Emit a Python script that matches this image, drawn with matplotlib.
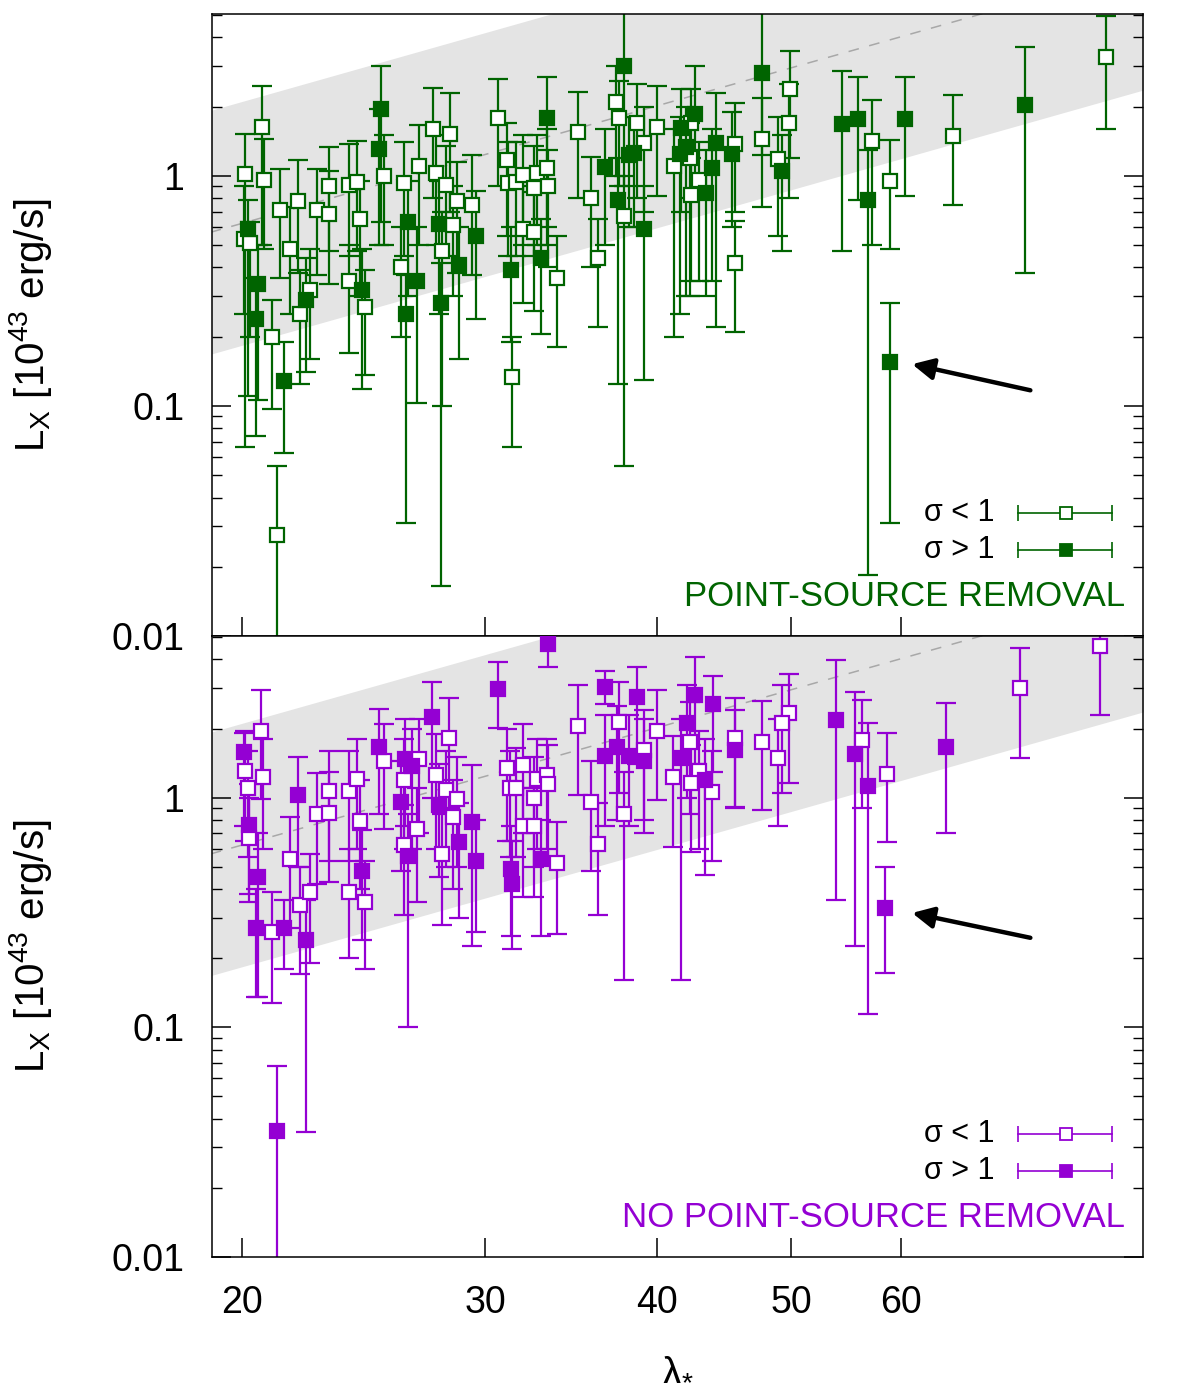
import matplotlib
matplotlib.use("Agg")
import matplotlib.pyplot as plt
import numpy as np
from matplotlib.ticker import FixedLocator, NullLocator, LogLocator, NullFormatter

plt.rcParams.update({
    "font.family": ["Liberation Sans", "DejaVu Sans"],
    "mathtext.default": "regular",
    "axes.linewidth": 1.1,
})

GREEN = "#006400"
PURPLE = "#9400d3"

# ---- top panel: point-source removal ----
lam_top = [20.1, 20.2, 20.07, 20.27, 20.67, 20.74, 20.54, 20.47, 21.02, 21.46, 21.19, 21.32,
           21.66, 21.98, 22.05, 22.27, 22.42, 22.68, 23.11, 23.11, 23.93, 24.25, 24.37, 23.93,
           24.45, 24.57, 25.23, 25.15, 25.36, 26.2, 26.39, 26.07, 26.31, 26.88, 26.79, 27.53,
           28.3, 27.65, 28.12, 27.79, 28.65, 28.42, 27.94, 28.71, 27.88, 29.37, 29.57, 30.66,
           31.13, 31.2, 31.6, 31.96, 32.7, 32.55, 33.26, 33.33, 33.26, 31.96, 32.55, 32.93,
           31.33, 31.4, 33.82, 35.03, 35.81, 36.22, 36.65, 37.8, 37.31, 37.5, 38.14, 38.46,
           37.45, 37.8, 38.64, 39.09, 39.09, 40.0, 41.6, 42.6, 42.3, 41.92, 41.5, 41.15,
           42.2, 44.1, 42.9, 43.8, 43.4, 42.3, 45.5, 45.3, 45.55, 47.6, 47.6, 49.9,
           49.8, 48.9, 49.2, 54.4, 55.9, 56.8, 57.2, 59.0, 59.0, 60.4, 65.5, 73.9, 84.5]
lx_top = [1.02, 0.59, 0.53, 0.51, 1.63, 0.96, 0.34, 0.24, 0.2, 0.128, 0.0275, 0.71,
          0.48, 0.78, 0.25, 0.29, 0.32, 0.71, 0.9, 0.68, 0.91, 0.94, 0.65, 0.35,
          0.32, 0.27, 1.95, 1.31, 1.0, 0.93, 0.63, 0.4, 0.25, 1.1, 0.35, 1.6,
          1.52, 1.03, 0.91, 0.62, 0.78, 0.61, 0.47, 0.41, 0.28, 0.75, 0.55, 1.79,
          1.17, 0.93, 0.94, 1.01, 1.03, 0.89, 1.08, 0.9, 1.79, 0.59, 0.57, 0.44,
          0.39, 0.134, 0.36, 1.55, 0.8, 0.44, 1.09, 3.01, 2.1, 1.79, 1.23, 1.26,
          0.79, 0.67, 1.7, 1.39, 0.59, 1.63, 1.62, 1.86, 1.7, 1.34, 1.25, 1.1,
          1.2, 1.39, 0.96, 1.08, 0.84, 0.83, 1.38, 1.25, 0.42, 2.8, 1.45, 2.39,
          1.7, 1.19, 1.05, 1.68, 1.77, 0.79, 1.42, 0.95, 0.155, 1.77, 1.49, 2.04, 3.29]
lo_top = [0.066, 0.11, 0.25, 0.2, 0.5, 0.48, 0.106, 0.074, 0.097, 0.0625, 0.005, 0.36,
          0.25, 0.38, 0.125, 0.14, 0.16, 0.37, 0.47, 0.34, 0.45, 0.47, 0.3, 0.17,
          0.119, 0.136, 0.63, 0.5, 0.5, 0.45, 0.3, 0.2, 0.031, 0.5, 0.103, 0.8,
          0.7, 0.5, 0.45, 0.25, 0.38, 0.3, 0.1, 0.16, 0.0165, 0.37, 0.24, 0.9,
          0.55, 0.45, 0.45, 0.5, 0.5, 0.45, 0.5, 0.4, 0.6, 0.28, 0.26, 0.205,
          0.19, 0.066, 0.18, 0.8, 0.4, 0.22, 0.5, 0.9, 1.0, 0.9, 0.6, 0.6,
          0.125, 0.055, 0.8, 0.7, 0.13, 0.82, 0.7, 0.8, 0.8, 0.3, 0.25, 0.2,
          0.3, 0.22, 0.35, 0.35, 0.3, 0.35, 0.7, 0.6, 0.21, 1.23, 0.73, 1.2,
          0.8, 0.55, 0.47, 0.47, 0.79, 0.0184, 0.5, 0.48, 0.031, 0.82, 0.75, 0.38, 1.6]
hi_top = [1.52, 0.79, 0.9, 0.63, 2.46, 1.45, 0.5, 0.36, 0.29, 0.19, 0.055, 1.07,
          0.73, 1.17, 0.39, 0.44, 0.48, 1.07, 1.34, 1.05, 1.38, 1.42, 0.95, 0.5,
          0.48, 0.39, 3.0, 1.95, 1.5, 1.4, 0.95, 0.6, 0.37, 1.66, 0.6, 2.41,
          2.3, 1.5, 1.35, 0.95, 1.15, 0.9, 0.7, 0.6, 0.42, 1.23, 0.86, 2.64,
          1.7, 1.4, 1.4, 1.5, 1.5, 1.35, 1.6, 1.3, 2.69, 0.9, 0.85, 0.65,
          0.6, 0.2, 0.55, 2.32, 1.21, 0.65, 1.6, 6.0, 3.0, 2.6, 1.8, 1.8,
          1.2, 1.0, 2.5, 2.0, 0.9, 2.46, 2.4, 3.0, 2.4, 2.0, 1.8, 1.6,
          1.7, 2.3, 1.4, 1.6, 1.3, 1.2, 2.08, 1.9, 0.64, 6.0, 2.18, 3.5,
          2.5, 1.8, 1.5, 2.86, 2.69, 1.3, 2.14, 1.43, 0.28, 2.69, 2.25, 3.64, 4.96]
sig_top = [0, 1, 0, 0, 0, 0, 1, 1, 0, 1, 0, 0,
           0, 0, 0, 1, 0, 0, 0, 0, 0, 0, 0, 0,
           1, 0, 1, 1, 0, 0, 1, 0, 1, 0, 1, 0,
           0, 0, 0, 1, 0, 0, 0, 1, 1, 0, 1, 0,
           0, 0, 0, 0, 0, 0, 0, 0, 1, 0, 0, 1,
           1, 0, 0, 0, 0, 0, 1, 1, 0, 0, 1, 1,
           1, 0, 0, 0, 1, 0, 1, 1, 0, 1, 1, 0,
           0, 1, 0, 1, 1, 0, 0, 1, 0, 1, 0, 0,
           0, 0, 1, 1, 1, 1, 0, 0, 1, 1, 0, 1, 0]

# ---- bottom panel: no point-source removal ----
lam_bot = [20.07, 20.64, 20.1, 20.2, 20.71, 20.23, 20.23, 20.54, 20.47, 21.02, 21.46, 21.19,
           21.66, 21.98, 22.05, 22.27, 22.42, 22.68, 23.11, 23.11, 23.93, 24.25, 24.37, 24.45,
           23.93, 24.57, 25.15, 25.36, 26.26, 26.2, 26.07, 26.2, 26.39, 26.57, 26.88, 26.79,
           27.47, 28.24, 27.65, 28.12, 27.79, 28.65, 28.42, 28.71, 27.94, 29.37, 29.57, 30.66,
           33.3, 31.13, 31.96, 31.27, 31.6, 32.7, 33.26, 33.33, 32.55, 31.96, 32.55, 31.33,
           31.4, 32.93, 33.82, 35.03, 35.81, 36.22, 36.65, 36.65, 37.5, 37.4, 38.64, 38.14,
           37.8, 39.09, 39.09, 40.0, 42.6, 43.85, 42.0, 42.2, 41.6, 41.07, 42.9, 42.3,
           43.3, 43.8, 45.5, 45.55, 47.6, 49.8, 49.2, 48.9, 53.9, 55.6, 56.3, 56.8,
           58.7, 58.5, 64.7, 73.2, 83.7]
lx_bot = [1.58, 1.96, 1.31, 1.1, 1.23, 0.76, 0.67, 0.45, 0.27, 0.26, 0.27, 0.0353,
          0.54, 1.03, 0.34, 0.24, 0.39, 0.85, 1.07, 0.86, 1.07, 1.21, 0.79, 0.48,
          0.39, 0.35, 1.67, 1.45, 1.48, 1.19, 0.96, 0.62, 0.56, 1.38, 1.48, 0.73,
          2.25, 1.82, 1.26, 1.08, 0.93, 0.99, 0.82, 0.64, 0.57, 0.78, 0.53, 2.98,
          4.67, 1.35, 1.39, 1.1, 1.1, 1.21, 1.25, 1.15, 1.0, 0.75, 0.75, 0.49,
          0.42, 0.54, 0.52, 2.06, 0.96, 0.63, 3.04, 1.52, 2.14, 1.67, 2.75, 1.52,
          0.85, 1.62, 1.45, 1.96, 2.8, 2.56, 2.12, 1.75, 1.49, 1.23, 1.31, 1.16,
          1.19, 1.06, 1.82, 1.62, 1.75, 2.34, 2.12, 1.49, 2.18, 1.55, 1.79, 1.13,
          1.27, 0.33, 1.67, 3.01, 4.58]
lo_bot = [0.75, 0.99, 0.65, 0.55, 0.6, 0.38, 0.35, 0.136, 0.136, 0.128, 0.18, 0.003,
          0.27, 0.5, 0.17, 0.035, 0.19, 0.42, 0.53, 0.43, 0.53, 0.6, 0.4, 0.24,
          0.2, 0.18, 0.85, 0.73, 0.75, 0.6, 0.48, 0.31, 0.1, 0.6, 0.7, 0.35,
          1.0, 0.9, 0.6, 0.5, 0.45, 0.5, 0.4, 0.3, 0.28, 0.227, 0.26, 2.01,
          3.71, 0.65, 0.7, 0.55, 0.55, 0.6, 0.6, 0.55, 0.5, 0.37, 0.37, 0.25,
          0.22, 0.25, 0.256, 1.03, 0.48, 0.31, 2.56, 0.75, 1.05, 0.8, 1.4, 0.75,
          0.16, 0.8, 0.7, 0.98, 1.4, 1.3, 1.0, 0.85, 0.16, 0.61, 0.6, 0.58,
          0.46, 0.53, 0.9, 0.91, 0.88, 1.16, 1.05, 0.75, 0.36, 0.227, 0.9, 0.114,
          0.64, 0.172, 0.7, 1.49, 2.3]
hi_bot = [1.92, 2.95, 1.95, 1.6, 1.8, 1.15, 1.0, 0.7, 0.4, 0.39, 0.36, 0.068,
          0.82, 1.51, 0.5, 0.36, 0.57, 1.28, 1.6, 1.3, 1.6, 1.8, 1.2, 0.72,
          0.6, 0.53, 2.44, 2.1, 2.2, 1.8, 1.45, 0.93, 0.85, 2.0, 2.2, 1.1,
          3.19, 2.72, 1.9, 1.6, 1.4, 1.5, 1.2, 0.95, 0.85, 1.39, 0.8, 3.9,
          6.0, 2.0, 2.1, 1.6, 1.65, 1.8, 1.8, 1.7, 1.5, 1.1, 1.1, 0.75,
          0.65, 0.8, 0.78, 3.1, 1.45, 0.95, 3.57, 2.3, 3.2, 2.5, 3.71, 2.3,
          1.3, 2.4, 2.2, 2.95, 4.1, 3.39, 3.1, 2.6, 2.2, 1.85, 1.95, 1.7,
          1.8, 1.6, 2.72, 2.4, 2.64, 3.46, 3.1, 2.2, 3.98, 2.89, 2.67, 2.12,
          1.92, 0.5, 2.59, 4.49, 6.0]
sig_bot = [1, 0, 0, 0, 0, 1, 0, 1, 1, 0, 1, 1,
           0, 1, 0, 1, 0, 0, 0, 0, 0, 0, 0, 1,
           0, 0, 1, 0, 1, 0, 1, 0, 1, 1, 0, 0,
           1, 0, 0, 0, 1, 0, 0, 1, 0, 1, 1, 1,
           1, 0, 0, 0, 0, 0, 0, 0, 0, 0, 0, 1,
           1, 1, 0, 0, 0, 0, 1, 1, 0, 1, 1, 1,
           0, 0, 1, 0, 1, 1, 1, 0, 1, 0, 0, 0,
           1, 0, 0, 1, 0, 0, 0, 0, 1, 1, 0, 1,
           0, 1, 1, 0, 0]

# band: L = norm * (lambda/40)^slope, +/- half-width in dex
band_norm = 2.02
band_slope = 1.7
band_dex = 0.53

XLIM = (19.03, 89.9)
YLIM = (0.01, 5.06)


def draw_band(ax):
    lg = np.geomspace(XLIM[0] * 0.9, XLIM[1] * 1.1, 200)
    mid = band_norm * (lg / 40.0) ** band_slope
    ax.fill_between(lg, mid / 10 ** band_dex, mid * 10 ** band_dex,
                    color="#e4e4e4", lw=0, zorder=0)
    ax.plot(lg, mid, color="#a8a8a8", lw=1.1, dashes=(7, 7), zorder=1)


def draw_points(ax, lam, lx, lo, hi, sig, color):
    lam = np.array(lam); lx = np.array(lx)
    err = np.vstack([lx - np.array(lo), np.array(hi) - lx])
    ax.errorbar(lam, lx, yerr=err, fmt="none", ecolor=color, elinewidth=1.6,
                capsize=7, capthick=1.6, zorder=2)
    sig = np.array(sig, bool)
    ax.plot(lam[~sig], lx[~sig], "s", ms=9.5, mfc="white", mec=color, mew=1.6, zorder=3,
            ls="none")
    ax.plot(lam[sig], lx[sig], "s", ms=9.5, mfc=color, mec=color, mew=1.6, zorder=3,
            ls="none")


def draw_key(ax, color, title):
    rows = [(0.198, "σ < 1", "white"), (0.139, "σ > 1", color)]
    for y, lab, fc in rows:
        ax.plot([0.866, 0.967], [y, y], color=color, lw=1.2, marker="|", ms=12, mew=1.2,
                transform=ax.transAxes, zorder=4, clip_on=False)
        ax.plot([0.917], [y], "s", ms=8, mfc=fc, mec=color, mew=1.3,
                transform=ax.transAxes, zorder=5)
        ax.text(0.841, y, lab, transform=ax.transAxes, ha="right", va="center",
                fontsize=22)
    ax.text(0.981, 0.063, title, transform=ax.transAxes, ha="right", va="center",
            fontsize=25, color=color)


def style(ax, bottom_labels):
    ax.set_xscale("log"); ax.set_yscale("log")
    ax.set_xlim(*XLIM); ax.set_ylim(*YLIM)
    ax.xaxis.set_major_locator(FixedLocator([20, 30, 40, 50, 60]))
    ax.xaxis.set_minor_locator(NullLocator())
    ax.set_xticklabels(["20", "30", "40", "50", "60"])
    ax.yaxis.set_major_locator(FixedLocator([0.01, 0.1, 1]))
    ax.set_yticklabels(["0.01", "0.1", "1"])
    ax.yaxis.set_minor_locator(LogLocator(base=10, subs=np.arange(2, 10)))
    ax.yaxis.set_minor_formatter(NullFormatter())
    ax.tick_params(axis="both", which="major", direction="in", length=14, width=1.1,
                   labelsize=27, pad=20)
    ax.tick_params(axis="both", which="minor", direction="in", length=7, width=1.0)
    ax.tick_params(axis="y", which="both", left=True, right=True)
    ax.tick_params(axis="x", which="both", top=False, labelbottom=bottom_labels)
    ax.set_ylabel(r"L$_{X}$ [10$^{43}$ erg/s]", fontsize=29)
    ax.yaxis.set_label_coords(-0.17, 0.5)


fig = plt.figure(figsize=(12, 13.99), dpi=100)
ax1 = fig.add_axes([0.1767, 0.5454, 0.7758, 0.4446])
ax2 = fig.add_axes([0.1767, 0.1015, 0.7758, 0.4439])

# arrow tip / tail in axes fraction for each panel
arrows = {ax1: ((0.752, 0.437), (0.879, 0.395)),
          ax2: ((0.752, 0.554), (0.879, 0.514))}

for ax, lam, lx, lo, hi, sig, col, title in [
        (ax1, lam_top, lx_top, lo_top, hi_top, sig_top, GREEN, "POINT-SOURCE REMOVAL"),
        (ax2, lam_bot, lx_bot, lo_bot, hi_bot, sig_bot, PURPLE, "NO POINT-SOURCE REMOVAL")]:
    draw_band(ax)
    draw_points(ax, lam, lx, lo, hi, sig, col)
    draw_key(ax, col, title)
    tip, tail = arrows[ax]
    ax.annotate("", xy=tip, xytext=tail,
                xycoords="axes fraction", textcoords="axes fraction",
                arrowprops=dict(arrowstyle="-|>", color="black", lw=3.2,
                                mutation_scale=32, shrinkA=0, shrinkB=0), zorder=6)

style(ax1, False)
style(ax2, True)
ax2.set_xlabel("λ$_{*}$", fontsize=29)
ax2.xaxis.set_label_coords(0.5, -0.15)

fig.savefig("out.png", dpi=100)
